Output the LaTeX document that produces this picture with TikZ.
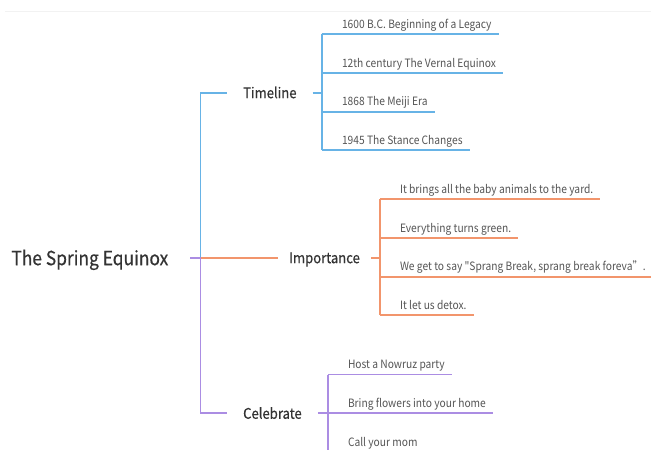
\documentclass[tikz,border=0pt]{standalone}
\usepackage{fontspec}
\setmainfont{Noto Sans CJK SC}[Ligatures=TeXOff, FakeStretch=0.89]
\newfontfamily\headfont{Noto Sans CJK SC}[Ligatures=TeXOff, FakeStretch=0.89, FakeBold=0.5]
\usetikzlibrary{calc}
\pgfdeclarelayer{lines}
\pgfsetlayers{lines,main}
\definecolor{cblue}{HTML}{67B3E6}
\definecolor{corange}{HTML}{F2956C}
\definecolor{cpurple}{HTML}{AB8DE3}
\definecolor{headc}{HTML}{333333}
\definecolor{leafc}{HTML}{555555}
\begin{document}
\begin{tikzpicture}[x=1pt,y=-1pt,
  rootbox/.style={font=\headfont\fontsize{19.5}{22}\selectfont, text=headc, inner xsep=22pt, inner ysep=0pt, text height=15pt, text depth=0pt},
  headbox/.style={font=\headfont\fontsize{14.7}{17}\selectfont, text=headc, inner ysep=0pt, text height=11pt, text depth=0pt},
  leafbox/.style={font=\fontsize{11.5}{14}\selectfont, text=leafc, inner sep=0pt, outer sep=0pt, text depth=6pt, anchor=base west},
  bl/.style={draw=cblue, line width=1.8pt},
  ol/.style={draw=corange, line width=1.8pt},
  pl/.style={draw=cpurple, line width=1.8pt}
]
\useasboundingbox (0,0) rectangle (651,450);
\clip (0,0) rectangle (651,450);

% root and headings
\node[rootbox] (root) at (89.85,257.7) {The Spring Equinox};
\coordinate (jn) at ($(root.east)+(10,0)$);
\node[headbox, inner xsep=16pt, anchor=west] (tl) at (227,92.7) {Timeline};
\node[headbox, inner xsep=11pt, anchor=west] (im) at (278,257.7) {Importance};
\node[headbox, inner xsep=16pt, anchor=west] (ce) at (227,413.3) {Celebrate};

\coordinate (tbar) at ($(tl.east)+(9,0)$);
\coordinate (ibar) at ($(im.east)+(9,0)$);
\coordinate (cbar) at ($(ce.east)+(10,0)$);

% Timeline leaves
\node[leafbox] (t1) at (342,28.3) {1600 B.C. Beginning of a Legacy};
\node[leafbox] (t2) at (342,67) {12th century The Vernal Equinox};
\node[leafbox] (t3) at (342,105.7) {1868 The Meiji Era};
\node[leafbox] (t4) at (342,144.3) {1945 The Stance Changes};

% Importance leaves
\node[leafbox] (i1) at (400,193.2) {It brings all the baby animals to the yard.};
\node[leafbox] (i2) at (400,232.2) {Everything turns green.};
\node[leafbox] (i3) at (400,270.8) {We get to say "Sprang Break, sprang break foreva”.};
\node[leafbox] (i4) at (400,309.2) {It let us detox.};

% Celebrate leaves
\node[leafbox] (c1) at (348,368.5) {Host a Nowruz party};
\node[leafbox] (c2) at (348,407.3) {Bring flowers into your home};
\node[leafbox] (c3) at (348,446) {Call your mom};

\begin{pgfonlayer}{lines}
\fill[white] (0,0) rectangle (651,450);
\draw[black!5, line width=1pt] (5,11) -- (651,11);

\draw[bl] (jn) |- (tl.west);
\draw[pl] (jn) |- (ce.west);
\draw[ol] (jn) -- (im.west);
\draw[pl] (root.east) -- ($(jn)+(1,0)$);

\draw[bl] (tl.east) -- (tbar);
\draw[ol] (im.east) -- (ibar);
\draw[pl] (ce.east) -- (cbar);

\draw[bl] (t1.south west -| tbar) -- (t4.south west -| tbar);
\foreach \n in {t1,t2,t3,t4}
  \draw[bl] (\n.south west -| tbar) -- ($(\n.south east)+(7,0)$);

\draw[ol] (i1.south west -| ibar) -- (i4.south west -| ibar);
\foreach \n in {i1,i2,i3,i4}
  \draw[ol] (\n.south west -| ibar) -- ($(\n.south east)+(7,0)$);

\draw[pl] (c1.south west -| cbar) -- (c3.south west -| cbar);
\foreach \n in {c1,c2,c3}
  \draw[pl] (\n.south west -| cbar) -- ($(\n.south east)+(7,0)$);
\end{pgfonlayer}
\end{tikzpicture}
\end{document}
